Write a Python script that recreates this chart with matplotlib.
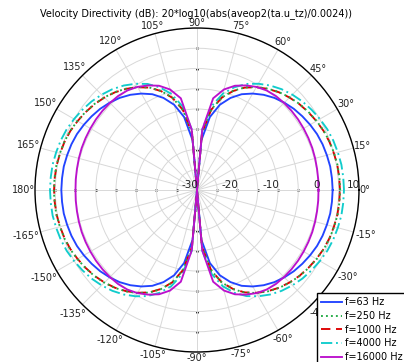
import numpy as np
import matplotlib.pyplot as plt

# angles of the first quadrant (deg); the pattern is mirrored to the other three
angles = [0, 5, 10, 15, 20, 25, 30, 35, 40, 45, 50, 55, 60, 65, 70, 75, 80, 85, 90]

# directivity in dB
db_63 = [3.5, 3.45, 3.4, 3.2, 3.0, 2.7, 2.25, 1.75, 1.2, 0.5, -0.3, -1.3, -2.5, -3.9, -5.8, -8.2, -11.7, -17.7, -30]
db_250 = [5.35, 5.3, 5.25, 5.05, 4.85, 4.55, 4.1, 3.6, 3.05, 2.35, 1.55, 0.55, -0.65, -2.05, -3.95, -6.35, -9.85, -15.8, -30]
db_1000 = [5.3, 5.25, 5.2, 5.0, 4.8, 4.5, 4.05, 3.55, 3.0, 2.3, 1.5, 0.5, -0.7, -2.1, -4.0, -6.4, -9.9, -15.9, -30]
db_4000 = [6.3, 6.25, 6.2, 6.0, 5.8, 5.5, 5.05, 4.55, 4.0, 3.3, 2.5, 1.5, 0.3, -1.1, -3.0, -5.4, -8.9, -14.9, -30]
db_16000 = [0.0, 0.05, 0.1, 0.2, 0.3, 0.35, 0.4, 0.45, 0.45, 0.4, 0.3, 0.0, -0.6, -1.5, -2.6, -4.3, -7.0, -15.0, -30]

labels = ['f=63 Hz', 'f=250 Hz', 'f=1000 Hz', 'f=4000 Hz', 'f=16000 Hz']
colors = ['#2244ff', '#22aa44', '#dd0000', '#11cccc', '#bb11cc']
styles = ['-', ':', (0, (5, 3)), (0, (6, 2, 1, 2)), '-']
series = [db_63, db_250, db_1000, db_4000, db_16000]

r_ticks = [-30, -25, -20, -15, -10, -5, 0, 5, 10]
r_labels = [-30, -20, -10, 0, 10]
theta_ticks = list(range(0, 360, 15))
theta_names = [f'{t if t <= 180 else t - 360}°' for t in theta_ticks]


def full_circle(a, v):
    # mirror one quadrant over both axes
    a = np.array(a, dtype=float)
    v = np.array(v, dtype=float)
    q2 = 180 - a[::-1]
    th = np.concatenate([a, q2[1:], 180 + a[1:], 360 - a[::-1][1:]])
    rr = np.concatenate([v, v[::-1][1:], v[1:], v[::-1][1:]])
    return np.radians(th), rr


fig = plt.figure(figsize=(4.04, 3.62), dpi=100)
ax = fig.add_axes([0.0866, 0.0276, 0.802, 0.895], projection='polar')

# draw order: 250 under 1000 so the dotted line shows between the dashes
order = [0, 3, 2, 1, 4]
handles = {}
for i in order:
    th, rr = full_circle(angles, series[i])
    ln, = ax.plot(th, rr, color=colors[i], linestyle=styles[i], linewidth=1.35,
                  label=labels[i])
    handles[i] = ln

ax.set_ylim(-30, 10)
ax.set_rticks(r_ticks)
ax.set_yticklabels([])
ax.set_thetagrids(theta_ticks, [''] * len(theta_ticks))
ax.set_thetalim(0, 2 * np.pi)
ax.grid(True, color='#d8d8d8', linewidth=0.7)
ax.spines['polar'].set_color('black')
ax.spines['polar'].set_linewidth(1.0)

# angle labels just outside the rim (4.05 px per dB)
for t, name in zip(theta_ticks, theta_names):
    a = np.radians(t)
    w = 5.3 * len(name)
    h = 9.0
    extra = 1.0 + 0.5 * (abs(np.cos(a)) * w + abs(np.sin(a)) * h)
    ax.text(a, 10 + extra / 4.05, name, ha='center', va='center',
            fontsize=7, color='#222222', clip_on=False)

# small tick dots along the 0/180 and 90/-90 axes
for t in [0, 90, 180, 270]:
    ax.plot(np.full(len(r_ticks) - 1, np.radians(t)), r_ticks[:-1], 'k.',
            markersize=1.8, zorder=1)

for r in r_labels:
    ax.text(0, r + 0.3, str(r), ha='right', va='bottom', fontsize=7.5,
            color='#222222')

fig.suptitle('Velocity Directivity (dB): 20*log10(abs(aveop2(ta.u_tz)/0.0024))',
             fontsize=7, x=0.484, y=0.978)

leg = fig.legend([handles[i] for i in range(5)], labels, loc='upper left',
                 bbox_to_anchor=(317 / 404, 1 - 293 / 362), borderaxespad=0,
                 fontsize=7, frameon=True, fancybox=False, framealpha=1,
                 edgecolor='black', handlelength=2.1, borderpad=0.45,
                 labelspacing=0.38, handletextpad=0.3)
leg.get_frame().set_linewidth(1.0)

fig.savefig('out.png', dpi=100)
